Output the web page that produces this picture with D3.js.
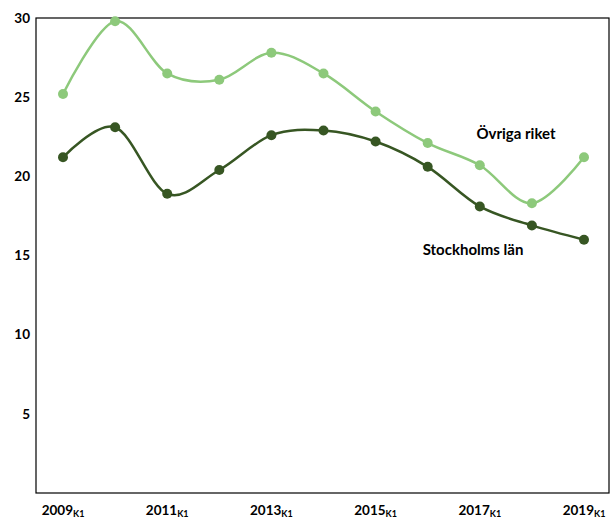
<!DOCTYPE html>
<html>
<head>
<meta charset="utf-8">
<script src="https://cdn.jsdelivr.net/npm/d3@7"></script>
<style>
  body { margin: 0; background: #fff; }
  text { font-family: Lato, "Open Sans", sans-serif; font-weight: bold; fill: #000; }
</style>
</head>
<body>
<script>
// år (kvartal 1)
var years = [2009, 2010, 2011, 2012, 2013, 2014, 2015, 2016, 2017, 2018, 2019];
var ovriga = [25.2, 29.8, 26.5, 26.1, 27.8, 26.5, 24.1, 22.1, 20.7, 18.3, 21.2];
var stockholm = [21.2, 23.1, 18.9, 20.4, 22.6, 22.9, 22.2, 20.6, 18.1, 16.9, 16.0];
var yTicks = [5, 10, 15, 20, 25, 30];
var xTickYears = [2009, 2011, 2013, 2015, 2017, 2019];

// marginaler
var LEFT = 36, RIGHT = 3, TOP = 18, BOTTOM = 28;
var W = 612, H = 521;

var svg = d3.select("body").append("svg")
  .attr("width", W).attr("height", H);

var xScale = d3.scaleLinear().domain([2009, 2019]).range([63, 584]);
var yScale = d3.scaleLinear().domain([0, 30]).range([H - BOTTOM, TOP]);

// ram runt diagramytan
svg.append("rect")
  .attr("x", LEFT).attr("y", TOP)
  .attr("width", W - LEFT - RIGHT).attr("height", H - BOTTOM - TOP)
  .attr("fill", "none").attr("stroke", "#000").attr("stroke-width", 1.2);

// y-axel
var yAxis = d3.axisLeft(yScale).tickValues(yTicks).tickSize(0).tickPadding(6);
svg.append("g")
  .attr("transform", "translate(" + LEFT + ",0)")
  .call(yAxis)
  .call(function (g) { g.select(".domain").remove(); })
  .selectAll("text").style("font-size", "13.5px").style("font-family", "Lato, sans-serif");

// x-etiketter med nedsänkt K1
var xl = svg.append("g").selectAll("text").data(xTickYears).enter().append("text")
  .attr("x", function (d) { return xScale(d); })
  .attr("y", 515)
  .attr("text-anchor", "middle")
  .style("font-size", "13.5px");
xl.append("tspan").text(function (d) { return d; });
xl.append("tspan").attr("dy", 2).style("font-size", "9px").text("K1");

var line = d3.line()
  .x(function (d, i) { return xScale(years[i]); })
  .y(function (d) { return yScale(d); })
  .curve(d3.curveCatmullRom.alpha(0));

var series = [
  { name: "Övriga riket", values: ovriga, color: "#8dc97b" },
  { name: "Stockholms län", values: stockholm, color: "#375623" }
];

series.forEach(function (s) {
  svg.append("path")
    .attr("d", line(s.values))
    .attr("fill", "none")
    .attr("stroke", s.color)
    .attr("stroke-width", 2.5);
  svg.append("g").selectAll("circle").data(s.values).enter().append("circle")
    .attr("cx", function (d, i) { return xScale(years[i]); })
    .attr("cy", function (d) { return yScale(d); })
    .attr("r", 5)
    .attr("fill", s.color);
});

// serieetiketter
svg.append("text").attr("x", 516).attr("y", 139).attr("text-anchor", "middle")
  .style("font-size", "15px").text("Övriga riket");
svg.append("text").attr("x", 473).attr("y", 255).attr("text-anchor", "middle")
  .style("font-size", "15px").text("Stockholms län");
</script>
</body>
</html>
